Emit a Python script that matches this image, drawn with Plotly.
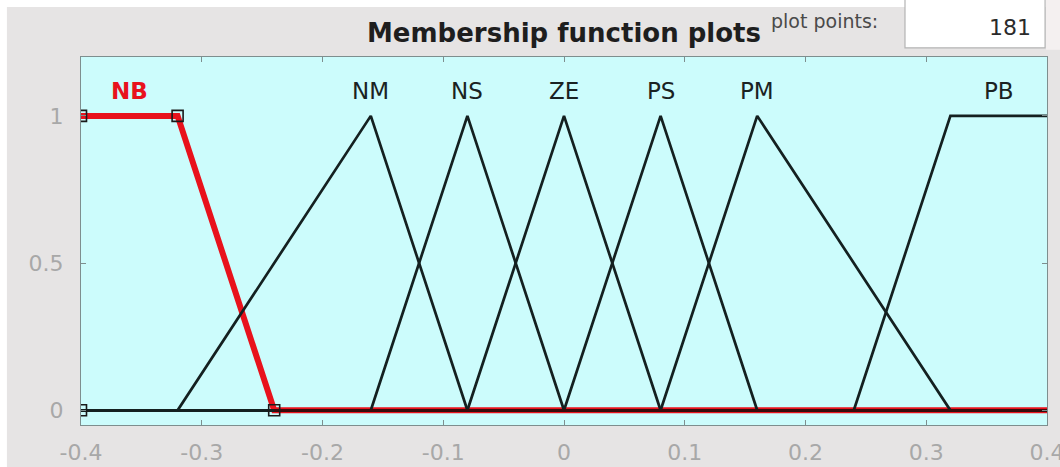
import plotly.graph_objects as go

# Membership function names and parameters (input range -0.4 .. 0.4)
mf_names = ["NB", "NM", "NS", "ZE", "PS", "PM", "PB"]
mf_types = ["trap", "tri", "tri", "tri", "tri", "tri", "trap"]
mf_params = [
    [-0.4, -0.4, -0.32, -0.24],
    [-0.32, -0.16, -0.08],
    [-0.16, -0.08, 0.0],
    [-0.08, 0.0, 0.08],
    [0.0, 0.08, 0.16],
    [0.08, 0.16, 0.32],
    [0.24, 0.32, 0.4, 0.4],
]
x_range = [-0.4, 0.4]
x_ticks = [-0.4, -0.3, -0.2, -0.1, 0, 0.1, 0.2, 0.3, 0.4]
x_ticklabels = ["-0.4", "-0.3", "-0.2", "-0.1", "0", "0.1", "0.2", "0.3", "0.4"]
y_ticks = [0, 0.5, 1]
y_ticklabels = ["0", "0.5", "1"]
selected = "NB"
plot_points = 181

FONT = "DejaVu Sans, Liberation Sans, Arial"
RED = "#e8121c"


def vertices(kind, p):
    """Corner points of a piecewise-linear MF over the full input range."""
    lo, hi = x_range
    if kind == "tri":
        a, b, c = p
        return [lo, a, b, c, hi], [0, 0, 1, 0, 0]
    a, b, c, d = p
    xs, ys = [], []
    if a > lo:
        xs += [lo, a]
        ys += [0, 0]
    xs.append(b)
    ys.append(1)
    xs.append(c)
    ys.append(1)
    if d < hi:
        xs += [d, hi]
        ys += [0, 0]
    return xs, ys


def label_x(kind, p):
    return p[1] if kind == "tri" else (p[1] + p[2]) / 2


fig = go.Figure()
sel_idx = mf_names.index(selected)

# selected MF drawn thick in red underneath
sx, sy = vertices(mf_types[sel_idx], mf_params[sel_idx])
fig.add_trace(go.Scatter(x=sx, y=sy, mode="lines",
                         line=dict(color=RED, width=6), hoverinfo="skip"))

# the other MFs in black
for i, (kind, p) in enumerate(zip(mf_types, mf_params)):
    if i == sel_idx:
        continue
    vx, vy = vertices(kind, p)
    fig.add_trace(go.Scatter(x=vx, y=vy, mode="lines",
                             line=dict(color="#142020", width=2.7), hoverinfo="skip"))

# dark core along the zero part of the selected MF
zx = [x for x, y in zip(sx, sy) if y == 0]
fig.add_trace(go.Scatter(x=[min(zx), x_range[1]], y=[0, 0], mode="lines",
                         line=dict(color="#3a0a0a", width=2.8), hoverinfo="skip"))

# edit handles on the selected MF parameters
p = mf_params[sel_idx]
fig.add_trace(go.Scatter(x=[p[0], p[1], p[2], p[3]], y=[0, 1, 1, 0], mode="markers",
                         marker=dict(symbol="square-open", size=11,
                                     color="#1a1a1a", line=dict(width=1.6)),
                         hoverinfo="skip"))

# MF name labels
for i, (name, kind, p) in enumerate(zip(mf_names, mf_types, mf_params)):
    fig.add_annotation(x=label_x(kind, p), y=1.085, text=name, showarrow=False,
                       xanchor="center", yanchor="middle",
                       font=dict(family=FONT, size=23,
                                 color=RED if i == sel_idx else "#1a2222",
                                 weight="bold" if i == sel_idx else "normal"))

# title and plot-points field
fig.add_annotation(xref="paper", yref="paper", x=0.50, y=1.0, yshift=24,
                   text="<b>Membership function plots</b>", showarrow=False,
                   xanchor="center", yanchor="middle",
                   font=dict(family=FONT, size=26, color="#1e1e1e"))
fig.add_annotation(xref="paper", yref="paper", x=0.712, y=1.0, yshift=36,
                   text="plot points:", showarrow=False,
                   xanchor="left", yanchor="middle",
                   font=dict(family=FONT, size=19, color="#4a4a4a"))
fig.add_annotation(xref="paper", yref="paper", x=0.985, y=1.0, yshift=30,
                   text=str(plot_points), showarrow=False,
                   xanchor="right", yanchor="middle",
                   font=dict(family=FONT, size=22, color="#2a2a2a"))

shapes = [
    # white outer bands
    dict(type="rect", xref="paper", yref="paper", x0=-0.09, x1=1.02, y0=1.136, y1=1.2,
         fillcolor="white", line=dict(width=0), layer="below"),
    dict(type="rect", xref="paper", yref="paper", x0=-0.09, x1=-0.0767, y0=-0.2, y1=1.2,
         fillcolor="white", line=dict(width=0), layer="below"),
    dict(type="rect", xref="paper", yref="paper", x0=0.999, x1=1.02, y0=1.02, y1=1.2,
         fillcolor="#f4f0f0", line=dict(width=0), layer="below"),
    # text box for the plot points value
    dict(type="rect", xref="paper", yref="paper", x0=0.853, x1=0.998, y0=1.025, y1=1.17,
         fillcolor="white", line=dict(color="#b4b4b4", width=1.2), layer="below"),
]

axis_common = dict(showgrid=False, zeroline=False, showline=True, mirror="ticks",
                   linecolor="#7e8e8e", linewidth=1.2, ticks="inside", ticklen=5,
                   tickcolor="#7e8e8e", automargin=False, ticklabeloverflow="allow",
                   tickfont=dict(family=FONT, size=22, color="#a8a8a8"))

fig.update_layout(
    width=1060, height=467,
    margin=dict(l=81, r=13, t=57, b=42),
    paper_bgcolor="#e6e4e4",
    plot_bgcolor="#ccfcfc",
    showlegend=False,
    shapes=shapes,
    xaxis=dict(range=[x_range[0] - 1e-9, x_range[1] + 1e-9], tickvals=x_ticks,
               ticktext=x_ticklabels, ticklabelstandoff=7, **axis_common),
    yaxis=dict(range=[-0.05, 1.2], tickvals=y_ticks, ticktext=y_ticklabels,
               ticklabelstandoff=12, **axis_common),
)

fig.write_html("out.html")
